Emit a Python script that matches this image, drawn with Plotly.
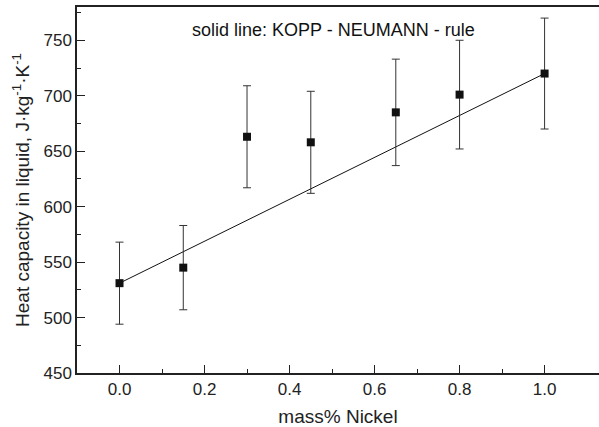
import plotly.graph_objects as go

mass_nickel = [0.0, 0.15, 0.30, 0.45, 0.65, 0.80, 1.00]
heat_capacity = [531, 545, 663, 658, 685, 701, 720]
error = [37, 38, 46, 46, 48, 49, 50]
rule_x = [0.0, 1.0]
rule_y = [531, 720]

FONT = "Liberation Sans"

fig = go.Figure()
fig.add_trace(go.Scatter(x=rule_x, y=rule_y, mode="lines",
                         line=dict(color="#111", width=1), showlegend=False))
fig.add_trace(go.Scatter(
    x=mass_nickel, y=heat_capacity, mode="markers",
    marker=dict(symbol="square", size=8, color="#111"),
    error_y=dict(type="data", array=error, visible=True, color="#333",
                 thickness=1, width=4),
    showlegend=False))

fig.add_annotation(x=0.503, y=759, xref="x", yref="y",
                   text="solid line: KOPP - NEUMANN - rule", showarrow=False,
                   font=dict(family=FONT, size=18, color="#111"))

axis_common = dict(showgrid=False, zeroline=False, showline=True, linecolor="#222",
                   linewidth=1.5, ticks="inside", ticklen=8, tickcolor="#222",
                   tickfont=dict(family=FONT, size=17, color="#222"),
                   title_font=dict(family=FONT, size=19, color="#222"))

fig.update_xaxes(range=[-0.1, 1.128], tickvals=[0, 0.2, 0.4, 0.6, 0.8, 1.0],
                 ticktext=["0.0", "0.2", "0.4", "0.6", "0.8", "1.0"],
                 minor=dict(tickvals=[0.1, 0.3, 0.5, 0.7, 0.9], ticks="inside",
                            ticklen=4, tickcolor="#222"),
                 mirror=True, title_text="mass% Nickel", title_standoff=14,
                 **axis_common)
fig.update_yaxes(range=[450, 780], tickvals=[450, 500, 550, 600, 650, 700, 750],
                 minor=dict(tickvals=[475, 525, 575, 625, 675, 725, 775], ticks="inside",
                            ticklen=4, tickcolor="#222"),
                 title_text="Heat capacity in liquid, J·kg<sup>-1</sup>·K<sup>-1</sup>",
                 title_standoff=9, **axis_common)

fig.update_layout(width=599, height=427, margin=dict(l=77, r=0, t=7, b=54),
                  plot_bgcolor="white", paper_bgcolor="white")

fig.write_html("out.html")
